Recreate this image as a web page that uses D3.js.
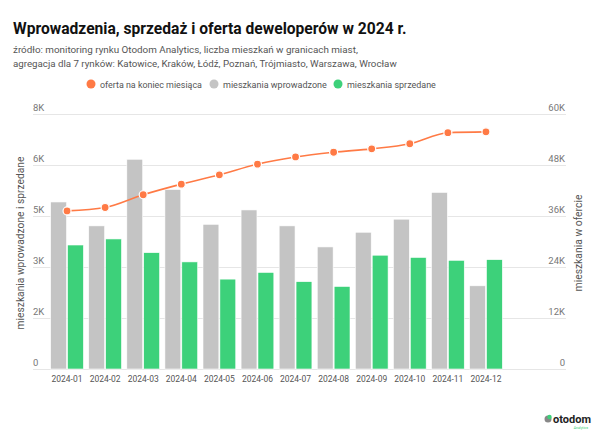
<!DOCTYPE html>
<html><head><meta charset="utf-8">
<script src="https://cdn.jsdelivr.net/npm/d3@7"></script>
<style>
html,body{margin:0;padding:0;background:#fff;}
svg{display:block;font-family:Roboto,"Open Sans",sans-serif;}
</style></head>
<body>
<svg id="c" width="600" height="433"></svg>
<script>
const months = ["2024-01","2024-02","2024-03","2024-04","2024-05","2024-06","2024-07","2024-08","2024-09","2024-10","2024-11","2024-12"];
const introduced = [5240,4490,6580,5630,4540,4990,4490,3830,4290,4700,5540,2610];
const sold = [3890,4080,3650,3360,2820,3030,2740,2590,3570,3500,3410,3430];
const offer = [37200,38000,41000,43500,45700,48200,49900,51000,51800,53000,55600,55800];
const leftTicks = [0,1600,3200,4800,6400,8000];
const leftTickLabels = ["0","2K","3K","5K","6K","8K"];
const rightTicks = [0,12000,24000,36000,48000,60000];
const rightTickLabels = ["0","12K","24K","36K","48K","60K"];
const legendItems = ["oferta na koniec miesiąca","mieszkania wprowadzone","mieszkania sprzedane"];

const C_ORANGE="#FF7A45", C_GREY="#C4C4C4", C_GREEN="#3DD17A";
const svg = d3.select("#c");
const gx0=33, gx1=566, yTop=114, yBot=369;

function fit(sel, w){
  sel.attr("font-size",10);
  const l = sel.node().getComputedTextLength();
  sel.attr("font-size", 10*w/l);
  return sel;
}

const x = d3.scaleBand().domain(months).range([48,505]).paddingInner(0.14).paddingOuter(0.07);
const xs = d3.scaleBand().domain(["i","s"]).range([0,x.bandwidth()]).paddingInner(0.06);
const yL = d3.scaleLinear().domain([0,8000]).range([yBot,yTop]);
const yR = d3.scaleLinear().domain([0,60000]).range([yBot,yTop]);

// title
fit(svg.append("text").attr("x",13).attr("y",34).attr("font-weight",700).attr("fill","#111")
  .text("Wprowadzenia, sprzedaż i oferta deweloperów w 2024 r."), 394);
fit(svg.append("text").attr("x",13).attr("y",53).attr("fill","#555")
  .text("źródło: monitoring rynku Otodom Analytics, liczba mieszkań w granicach miast,"), 345);
fit(svg.append("text").attr("x",13).attr("y",67).attr("fill","#555")
  .text("agregacja dla 7 rynków: Katowice, Kraków, Łódź, Poznań, Trójmiasto, Warszawa, Wrocław"), 384);

// legend
const legColors=[C_ORANGE,C_GREY,C_GREEN];
const legX=[91,214,338];
const legW=[102,104,89];
legendItems.forEach((t,i)=>{
  svg.append("circle").attr("cx",legX[i]).attr("cy",84).attr("r",4.5).attr("fill",legColors[i]);
  fit(svg.append("text").attr("x",legX[i]+9).attr("y",87.5).attr("fill","#555").text(t), legW[i]);
});

// grid
svg.append("g").selectAll("line").data(leftTicks).join("line")
  .attr("x1",gx0).attr("x2",gx1).attr("y1",d=>yL(d)+0.5).attr("y2",d=>yL(d)+0.5)
  .attr("stroke","#e6e6e6").attr("stroke-width",1);
svg.append("g").selectAll("text").data(leftTicks).join("text")
  .attr("x",gx0).attr("y",d=>yL(d)-3).attr("font-size",9.5).attr("fill","#777")
  .text((d,i)=>leftTickLabels[i]);
svg.append("g").selectAll("text").data(rightTicks).join("text")
  .attr("x",gx1-1).attr("y",d=>yR(d)-3).attr("font-size",9.5).attr("fill","#777").attr("text-anchor","end")
  .text((d,i)=>rightTickLabels[i]);

// axis titles
fit(svg.append("text").attr("transform","translate(24,243) rotate(-90)").attr("text-anchor","middle")
  .attr("fill","#555").text("mieszkania wprowadzone i sprzedane"), 173);
fit(svg.append("text").attr("transform","translate(582,243) rotate(-90)").attr("text-anchor","middle")
  .attr("fill","#555").text("mieszkania w ofercie"), 97);

// bars
const g = svg.append("g");
g.selectAll("rect.i").data(months).join("rect").attr("class","i")
  .attr("x",d=>x(d)+xs("i")).attr("width",xs.bandwidth())
  .attr("y",(d,i)=>yL(introduced[i])).attr("height",(d,i)=>yBot-yL(introduced[i]))
  .attr("fill",C_GREY).attr("stroke","#fff").attr("stroke-width",0.6);
g.selectAll("rect.s").data(months).join("rect").attr("class","s")
  .attr("x",d=>x(d)+xs("s")).attr("width",xs.bandwidth())
  .attr("y",(d,i)=>yL(sold[i])).attr("height",(d,i)=>yBot-yL(sold[i]))
  .attr("fill",C_GREEN).attr("stroke","#fff").attr("stroke-width",0.6);

// x axis labels
const xl = svg.append("g").selectAll("text").data(months).join("text")
  .attr("x",d=>x(d)+x.bandwidth()/2).attr("y",382).attr("text-anchor","middle")
  .attr("fill","#555").text(d=>d);
xl.each(function(){ fit(d3.select(this), 31); });

// line
const pts = months.map((m,i)=>[x(m)+x.bandwidth()/2, yR(offer[i])]);
svg.append("path").attr("d",d3.line().curve(d3.curveMonotoneX)(pts))
  .attr("fill","none").attr("stroke",C_ORANGE).attr("stroke-width",1.6);
svg.append("g").selectAll("circle").data(pts).join("circle")
  .attr("cx",d=>d[0]).attr("cy",d=>d[1]).attr("r",4).attr("fill",C_ORANGE)
  .attr("stroke","#fff").attr("stroke-width",1.2);

// logo
const lg = svg.append("g");
lg.append("circle").attr("cx",548).attr("cy",419).attr("r",3.5).attr("fill","#888");
lg.append("circle").attr("cx",549.5).attr("cy",417).attr("r",2.2).attr("fill","#3DD17A");
lg.append("text").attr("x",553).attr("y",423).attr("font-size",11).attr("font-weight",700).attr("fill","#222").text("otodom");
lg.append("text").attr("x",588).attr("y",429).attr("text-anchor","end").attr("font-size",3.5).attr("fill","#3DD17A").text("Analytics");
</script>
</body></html>
